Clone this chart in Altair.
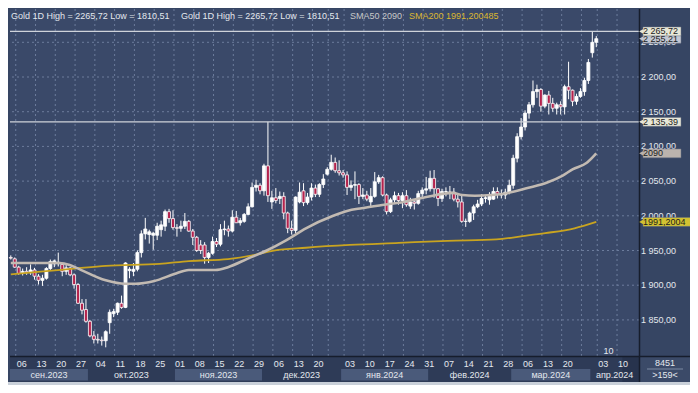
import altair as alt
import pandas as pd

# ---------------- data ----------------
opens = [1940, 1938, 1926, 1917, 1920, 1918, 1922, 1913, 1907, 1910,
         1924, 1931, 1931, 1930, 1920, 1925, 1915, 1901, 1874, 1865,
         1848, 1827, 1822, 1821, 1820, 1846, 1859, 1861, 1874, 1868,
         1921, 1920, 1923, 1947, 1974, 1973, 1972, 1972, 1980, 1985,
         2006, 1996, 1983, 1982, 1985, 1992, 1978, 1969, 1958, 1958,
         1940, 1946, 1963, 1959, 1980, 1981, 1978, 1998, 1990, 1992,
         2002, 2013, 2041, 2044, 2036, 2072, 2020, 2026, 2025, 2028,
         2004, 1982, 1979, 2020, 2036, 2019, 2027, 2040, 2031, 2045,
         2060, 2067, 2077, 2065, 2062, 2059, 2041, 2044, 2045, 2028,
         2030, 2020, 2028, 2049, 2055, 2030, 2006, 2023, 2029, 2022,
         2029, 2014, 2020, 2018, 2032, 2037, 2039, 2054, 2039, 2025,
         2035, 2034, 2034, 2024, 2020, 1992, 1992, 2004, 2013, 2017,
         2025, 2023, 2024, 2035, 2031, 2030, 2034, 2044, 2083, 2114,
         2128, 2148, 2160, 2179, 2182, 2158, 2174, 2162, 2155, 2160,
         2157, 2186, 2181, 2165, 2172, 2179, 2195, 2235, 2250]
highs = [1943, 1940, 1928, 1924, 1926, 1930, 1925, 1916, 1915, 1926,
         1937, 1937, 1947, 1932, 1930, 1926, 1917, 1903, 1880, 1880,
         1850, 1834, 1830, 1826, 1835, 1865, 1866, 1875, 1885, 1933,
         1926, 1932, 1950, 1979, 1997, 1980, 1977, 1990, 1993, 2009,
         2010, 2008, 1988, 1993, 2004, 1994, 1981, 1971, 1965, 1962,
         1948, 1970, 1968, 1988, 1993, 1986, 2008, 2007, 1997, 2004,
         2018, 2048, 2052, 2047, 2075, 2135.39, 2036, 2040, 2035, 2034,
         2006, 1993, 2028, 2048, 2047, 2033, 2047, 2045, 2047, 2060,
         2070, 2088, 2084, 2080, 2066, 2064, 2051, 2064, 2047, 2040,
         2036, 2040, 2063, 2059, 2057, 2032, 2026, 2035, 2033, 2034,
         2037, 2026, 2024, 2036, 2041, 2056, 2065, 2066, 2040, 2039,
         2041, 2043, 2040, 2032, 2031, 1996, 2006, 2016, 2023, 2031,
         2030, 2034, 2041, 2041, 2038, 2039, 2052, 2088, 2119, 2141,
         2152, 2164, 2195, 2189, 2184, 2175, 2180, 2170, 2163, 2165,
         2189, 2222, 2182, 2176, 2184, 2199, 2226, 2265.72, 2259]
lows = [1937, 1925, 1915, 1914, 1915, 1915, 1908, 1901, 1899, 1908,
        1922, 1926, 1927, 1913, 1915, 1913, 1895, 1873, 1858, 1846,
        1825, 1816, 1816, 1813, 1810.51, 1830, 1854, 1857, 1866, 1867,
        1910, 1913, 1920, 1940, 1966, 1960, 1951, 1965, 1970, 1978,
        1990, 1980, 1970, 1977, 1981, 1977, 1958, 1948, 1945, 1931,
        1932, 1944, 1955, 1956, 1972, 1970, 1976, 1990, 1986, 1990,
        2001, 2012, 2035, 2031, 2029, 2020, 2010, 2018, 2017, 1995,
        1975, 1973, 1975, 2018, 2014, 2016, 2022, 2027, 2027, 2040,
        2058, 2065, 2062, 2058, 2055, 2030, 2036, 2024, 2017, 2024,
        2021, 2013, 2026, 2046, 2028, 2002, 2004, 2017, 2016, 2011,
        2013, 2010, 2009, 2016, 2027, 2031, 2035, 2026, 2014, 2020,
        2028, 2024, 2021, 2012, 1990, 1984, 1990, 1994, 2011, 2014,
        2019, 2016, 2023, 2025, 2025, 2024, 2031, 2039, 2077, 2110,
        2123, 2140, 2156, 2170, 2150, 2155, 2146, 2150, 2146, 2146,
        2146, 2168, 2158, 2160, 2170, 2173, 2190, 2228, 2243]
closes = [1939, 1926, 1917, 1920, 1918, 1922, 1913, 1907, 1910, 1924,
          1934, 1935, 1933, 1920, 1925, 1915, 1901, 1874, 1864, 1848,
          1827, 1822, 1821, 1820, 1833, 1861, 1862, 1874, 1868, 1932,
          1923, 1923, 1947, 1974, 1981, 1977, 1975, 1985, 1987, 2006,
          1996, 1983, 1982, 1985, 1992, 1978, 1969, 1950, 1950, 1940,
          1946, 1963, 1959, 1980, 1981, 1978, 1998, 1990, 1993, 2002,
          2013, 2041, 2044, 2036, 2072, 2029, 2026, 2022, 2028, 2004,
          1982, 1979, 2027, 2034, 2019, 2027, 2040, 2031, 2045, 2053,
          2067, 2077, 2065, 2062, 2059, 2041, 2044, 2045, 2028, 2030,
          2024, 2028, 2049, 2055, 2030, 2006, 2023, 2029, 2022, 2029,
          2016, 2020, 2018, 2032, 2037, 2039, 2054, 2039, 2025, 2035,
          2035, 2034, 2024, 2020, 1992, 1992, 2004, 2013, 2017, 2025,
          2026, 2028, 2035, 2031, 2030, 2034, 2044, 2083, 2114, 2128,
          2148, 2160, 2179, 2182, 2158, 2174, 2162, 2155, 2160, 2157,
          2186, 2181, 2165, 2172, 2179, 2195, 2221, 2250, 2255.21]

# moving averages (bar index, value)
sma50_i = [0, 12.4, 14.9, 16.6, 24.0, 28.9, 31.4, 36.3, 41.3, 45.0, 51.7,
           54.9, 59.8, 64.7, 69.7, 74.6, 81.5, 85.0, 88.7, 94.4, 99.3, 105.0,
           111.6, 114.1, 117.3, 121.5, 125.7, 130.6, 135.6, 139.5, 142.0,
           145.5, 148]
sma50_v = [1932, 1932, 1929, 1925, 1907, 1902, 1902, 1906, 1916, 1922, 1922,
           1926, 1938, 1950, 1965, 1982, 2000, 2007, 2011, 2016, 2020, 2027,
           2033, 2030, 2029, 2030, 2033, 2040, 2048, 2058, 2067, 2076, 2090]
sma200_i = [0, 7.5, 15.9, 24.0, 37.6, 45.0, 54.9, 62.3, 66.5, 74.6, 85.7,
            98.1, 110.4, 122.8, 129.4, 135.1, 142.5, 148]
sma200_v = [1915.5, 1919.6, 1923.8, 1927.9, 1930.7, 1934.8, 1937.6, 1944.5,
            1950, 1954, 1958, 1961, 1964, 1966, 1970.7, 1975, 1982, 1991.2]

holidays = ["2023-12-25", "2024-01-01", "2024-03-29"]
week_dates = ["2023-09-06", "2023-09-13", "2023-09-20", "2023-09-27",
              "2023-10-04", "2023-10-11", "2023-10-18", "2023-10-25",
              "2023-11-01", "2023-11-08", "2023-11-15", "2023-11-22", "2023-11-29",
              "2023-12-06", "2023-12-13", "2023-12-20", "2023-12-27",
              "2024-01-03", "2024-01-10", "2024-01-17", "2024-01-24", "2024-01-31",
              "2024-02-07", "2024-02-14", "2024-02-21", "2024-02-28",
              "2024-03-06", "2024-03-13", "2024-03-20", "2024-03-27",
              "2024-04-03", "2024-04-10"]
week_labels = ["06", "13", "20", "27", "04", "11", "18", "25",
               "01", "08", "15", "22", "29", "06", "13", "20", "",
               "03", "10", "17", "24", "31", "07", "14", "21", "28",
               "06", "13", "20", "", "03", "10"]
month_names = ["сен.2023", "окт.2023", "ноя.2023", "дек.2023",
               "янв.2024", "фев.2024", "мар.2024", "апр.2024"]
month_keys = ["2023-09", "2023-10", "2023-11", "2023-12",
              "2024-01", "2024-02", "2024-03", "2024-04"]

axis_prices = [1850, 1900, 1950, 2000, 2050, 2100, 2150, 2200, 2250]
header_texts = ["Gold 1D High = 2265,72 Low = 1810,51",
                "Gold 1D High = 2265,72 Low = 1810,51",
                "SMA50 2090", "SMA200 1991,200485"]
level_lines = [2265.72, 2135.39]
last_price = 2255.21
sma50_last = 2090
sma200_last = 1991.2004
bars_info = ["8451", ">159<"]

# ---------------- layout / style ----------------
W, H = 629, 347
X_DOM = [-0.2, 158.8]
Y_DOM = [1798, 2298]
PLOT_BG = "#3a4969"
PANEL_BG = "#364563"
AXIS_BG = "#2e3b57"
BAND_BG = "#4a5a7a"
GRID = "#6c7c9c"
UP = "#ffffff"
DOWN = "#b4234d"
TXT = "#e4e8ee"
FONT = "Liberation Sans"

xs = alt.Scale(domain=X_DOM, nice=False, zero=False)
ys = alt.Scale(domain=Y_DOM, nice=False, zero=False)

days = [d.strftime("%Y-%m-%d") for d in pd.bdate_range("2023-09-04", "2024-04-12")]
days = [d for d in days if d not in holidays]
day_index = {d: k for k, d in enumerate(days)}

candles = pd.DataFrame({"i": list(range(len(opens))), "o": opens, "h": highs,
                        "l": lows, "c": closes})
weeks = pd.DataFrame({"t": [day_index[d] - 0.75 for d in week_dates],
                      "lab": week_labels})
m_start, m_end = [], []
for k, mk in enumerate(month_keys):
    first = min(day_index[d] for d in days if d.startswith(mk))
    m_start.append(max(first - 0.5, X_DOM[0]))
for k in range(len(month_keys)):
    m_end.append(m_start[k + 1] if k + 1 < len(month_keys) else X_DOM[1])
months = pd.DataFrame({"a": m_start, "b": m_end, "name": month_names,
                       "band": [k % 2 == 0 for k in range(len(month_names))]})
months["mid"] = (months["a"] + months["b"]) / 2


def fmt(v):
    return f"{v:,.2f}".replace(",", " ").replace(".", ",")


one = pd.DataFrame({"k": [0]})

X = lambda f: alt.X(f, scale=xs, axis=None)
Y = lambda f: alt.Y(f, scale=ys, axis=None)

layers = []
# grid
layers.append(alt.Chart(pd.DataFrame({"p": axis_prices})).mark_rule(
    color=GRID, strokeDash=[2, 3], strokeWidth=1).encode(y=Y("p:Q")))
layers.append(alt.Chart(weeks).mark_rule(
    color=GRID, strokeDash=[2, 3], strokeWidth=1).encode(x=X("t:Q")))

# candles
layers.append(alt.Chart(candles).mark_rule(color=UP, strokeWidth=1).encode(
    x=X("i:Q"), y=Y("l:Q"), y2="h:Q"))
layers.append(alt.Chart(candles).transform_calculate(
    x1="datum.i - 0.38", x2="datum.i + 0.38").mark_rect(
    stroke=UP, strokeWidth=0.8).encode(
    x=X("x1:Q"), x2="x2:Q", y=Y("o:Q"), y2="c:Q",
    fill=alt.condition("datum.c >= datum.o", alt.value(UP), alt.value(DOWN))))

# moving averages
layers.append(alt.Chart(pd.DataFrame({"i": sma200_i, "v": sma200_v})).mark_line(
    color="#c9a420", strokeWidth=1.8, interpolate="monotone").encode(
    x=X("i:Q"), y=Y("v:Q")))
layers.append(alt.Chart(pd.DataFrame({"i": sma50_i, "v": sma50_v})).mark_line(
    color="#c2bab2", strokeWidth=2.6, interpolate="monotone").encode(
    x=X("i:Q"), y=Y("v:Q")))

# level lines
layers.append(alt.Chart(pd.DataFrame({"p": level_lines})).mark_rule(
    color="#cfd3da", strokeWidth=1.2).encode(
    y=Y("p:Q"), x=alt.value(0), x2=alt.value(W + 3)))

# header
hx = [1, 171, 340, 399]
hcol = [TXT, TXT, "#c8c8c8", "#dcb830"]
for t, xpos, col in zip(header_texts, hx, hcol):
    layers.append(alt.Chart(one).mark_text(
        text=t, align="left", baseline="middle", fontSize=9, font=FONT,
        color=col).encode(x=alt.value(xpos), y=alt.value(7)))

# "10" marker near the bottom
layers.append(alt.Chart(pd.DataFrame({"i": [149.8]})).mark_text(
    text="10", align="left", baseline="middle", fontSize=9, font=FONT,
    color=TXT).encode(x=X("i:Q"), y=alt.value(H - 5)))

# bottom axis band
layers.append(alt.Chart(one).mark_rect(fill=AXIS_BG).encode(
    x=alt.value(0), x2=alt.value(W + 51), y=alt.value(H), y2=alt.value(H + 26)))
layers.append(alt.Chart(months[months["band"]]).mark_rect(fill=BAND_BG).encode(
    x=X("a:Q"), x2="b:Q", y=alt.value(H + 13), y2=alt.value(H + 24.5)))
layers.append(alt.Chart(pd.DataFrame({"a": [154.6], "b": [X_DOM[1]]})).mark_rect(
    fill="#26324b", opacity=0.8).encode(
    x=X("a:Q"), x2="b:Q", y=alt.value(H + 1), y2=alt.value(H + 26)))
layers.append(alt.Chart(one).mark_rect(fill="#c9d0d9").encode(
    x=alt.value(-2), x2=alt.value(W + 51), y=alt.value(H + 26), y2=alt.value(H + 31)))
layers.append(alt.Chart(weeks).mark_text(
    align="left", baseline="middle", fontSize=9, font=FONT, color=TXT, dx=1).encode(
    x=X("t:Q"), y=alt.value(H + 7.5), text="lab:N"))
layers.append(alt.Chart(months).mark_text(
    align="center", baseline="middle", fontSize=9, font=FONT, color=TXT).encode(
    x=X("mid:Q"), y=alt.value(H + 19), text="name:N"))

# right panel
layers.append(alt.Chart(one).mark_rect(fill="#3b4a68").encode(
    x=alt.value(W), x2=alt.value(W + 51), y=alt.value(H), y2=alt.value(H + 26)))
layers.append(alt.Chart(one).mark_rule(color="#7d8aa3", strokeWidth=1).encode(
    x=alt.value(W + 8), x2=alt.value(W + 44), y=alt.value(H + 13)))
for t, yy in zip(bars_info, [H + 7, H + 19]):
    layers.append(alt.Chart(one).mark_text(
        text=t, align="center", baseline="middle", fontSize=9, font=FONT,
        color=TXT).encode(x=alt.value(W + 26), y=alt.value(yy)))
layers.append(alt.Chart(one).mark_rule(color="#161d2c", strokeWidth=1.5).encode(
    x=alt.value(W + 0.5), y=alt.value(0), y2=alt.value(H + 26)))
layers.append(alt.Chart(one).mark_rule(color="#161d2c", strokeWidth=1.5).encode(
    x=alt.value(0), x2=alt.value(W + 51), y=alt.value(H + 0.5)))

# right axis labels
layers.append(alt.Chart(pd.DataFrame({"p": axis_prices,
                                      "lab": [fmt(v) for v in axis_prices]})).mark_text(
    align="left", baseline="middle", fontSize=9, font=FONT, color=TXT).encode(
    x=alt.value(W + 2), y=Y("p:Q"), text="lab:N"))


def tag(value, label, fill, width, tcol="#1c1c1c"):
    d = pd.DataFrame({"p": [value], "lab": [label]})
    base = alt.Chart(d).transform_calculate(lo="datum.p - 6.4", hi="datum.p + 6.4")
    return [
        base.mark_rect(fill=fill, stroke="#6c7484", strokeWidth=0.5).encode(
            x=alt.value(W + 4), x2=alt.value(W + width), y=Y("lo:Q"), y2="hi:Q"),
        base.mark_point(shape="triangle-left", filled=True, size=28, color=fill,
                        opacity=1).encode(x=alt.value(W + 2.5), y=Y("p:Q")),
        base.mark_text(align="left", baseline="middle", fontSize=9, font=FONT,
                       color=tcol).encode(x=alt.value(W + 4), y=Y("p:Q"), text="lab:N"),
    ]


layers += tag(last_price, fmt(last_price), "#c3c8d4", 42)
layers += tag(level_lines[0], fmt(level_lines[0]), "#e7e6d6", 42)
layers += tag(level_lines[1], fmt(level_lines[1]), "#e7e6d6", 42)
layers += tag(sma50_last, str(sma50_last), "#bbb3ad", 42)
layers += tag(sma200_last, f"{sma200_last:.4f}".replace(".", ","), "#d2c232", 52)

chart = alt.layer(*layers).properties(
    width=W, height=H,
    padding={"left": 2, "top": 1, "right": 51, "bottom": 29},
    autosize=alt.AutoSizeParams(type="none"),
    background=PANEL_BG,
).configure_view(fill=PLOT_BG, stroke=None)

chart.save("out.html", embed_options={"renderer": "svg", "actions": False})
